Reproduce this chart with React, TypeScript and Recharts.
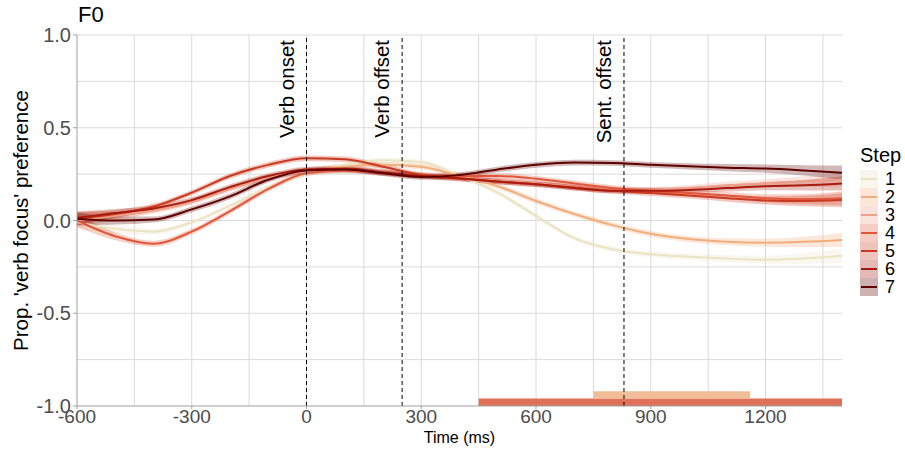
import {
  ComposedChart,
  Line,
  Area,
  XAxis,
  YAxis,
  CartesianGrid,
  ReferenceLine,
  ReferenceArea,
} from 'recharts';

const FONT = '"Liberation Sans", Arial, Helvetica, sans-serif';

// time points (ms)
const TIMES = [-600, -500, -400, -300, -200, -100, 0, 100, 200, 300, 400, 500, 600, 700, 800, 900, 1000, 1100, 1200, 1300, 1400];

// smoothed proportion per step
const STEP_1 = [-0.01, -0.045, -0.06, -0.01, 0.08, 0.18, 0.25, 0.3, 0.325, 0.315, 0.24, 0.15, 0.025, -0.095, -0.155, -0.182, -0.195, -0.205, -0.212, -0.205, -0.19];
const STEP_2 = [0.01, 0.03, 0.055, 0.105, 0.175, 0.235, 0.27, 0.29, 0.3, 0.29, 0.24, 0.185, 0.105, 0.035, -0.025, -0.072, -0.1, -0.115, -0.12, -0.115, -0.105];
const STEP_3 = [0.0, 0.025, 0.055, 0.1, 0.17, 0.23, 0.265, 0.275, 0.26, 0.24, 0.23, 0.215, 0.2, 0.18, 0.165, 0.165, 0.175, 0.19, 0.2, 0.21, 0.22];
const STEP_4 = [0.0, -0.085, -0.125, -0.06, 0.05, 0.17, 0.255, 0.27, 0.255, 0.245, 0.24, 0.24, 0.225, 0.2, 0.175, 0.16, 0.148, 0.135, 0.12, 0.115, 0.12];
const STEP_5 = [0.01, 0.035, 0.075, 0.15, 0.24, 0.3, 0.335, 0.33, 0.29, 0.245, 0.225, 0.21, 0.195, 0.178, 0.16, 0.148, 0.135, 0.12, 0.108, 0.105, 0.11];
const STEP_6 = [0.015, 0.04, 0.065, 0.11, 0.18, 0.24, 0.275, 0.28, 0.26, 0.24, 0.228, 0.21, 0.195, 0.175, 0.16, 0.16, 0.165, 0.175, 0.185, 0.19, 0.2];
const STEP_7 = [0.01, 0.0, 0.005, 0.06, 0.13, 0.22, 0.27, 0.275, 0.255, 0.235, 0.245, 0.275, 0.3, 0.312, 0.31, 0.3, 0.292, 0.285, 0.28, 0.27, 0.258];

// ribbon half-width at each time point
const RIBBON = [0.035, 0.022, 0.016, 0.015, 0.015, 0.015, 0.015, 0.015, 0.015, 0.015, 0.015, 0.015, 0.015, 0.015, 0.015, 0.016, 0.017, 0.019, 0.022, 0.028, 0.038];

const STEP_NAMES = ['1', '2', '3', '4', '5', '6', '7'];
const STEP_VALUES = [STEP_1, STEP_2, STEP_3, STEP_4, STEP_5, STEP_6, STEP_7];
const STEP_COLORS = ['#ebe3c4', '#f2ad7c', '#ee9f8c', '#e2573a', '#c93a20', '#a81b0e', '#5e0000'];

// event markers
const EVENT_TIMES = [0, 250, 830];
const EVENT_LABELS = ['Verb onset', 'Verb offset', 'Sent. offset'];

// significant clusters (bars along the bottom)
const SIG_START = [450, 750];
const SIG_END = [1400, 1160];
const SIG_BOTTOM = [-1.0, -0.96];
const SIG_TOP = [-0.96, -0.92];
const SIG_COLORS = ['#e0705a', '#f0be96'];

const X_TICKS = [-600, -300, 0, 300, 600, 900, 1200];
const Y_TICKS = [-1, -0.5, 0, 0.5, 1];
const GRID_X = [-450, -300, -150, 0, 150, 300, 450, 600, 750, 900, 1050, 1200, 1350];
const GRID_Y = [-0.75, -0.5, -0.25, 0, 0.25, 0.5, 0.75, 1];

const data = TIMES.map((t, i) => {
  const row: Record<string, any> = { t };
  STEP_VALUES.forEach((vals, s) => {
    row[`s${s}`] = vals[i];
    row[`r${s}`] = [vals[i] - RIBBON[i], vals[i] + RIBBON[i]];
  });
  return row;
});

const EventLabel = ({ viewBox, text }: any) => {
  const x = viewBox.x - 13;
  const y = 40;
  return (
    <text x={x} y={y} transform={`rotate(-90, ${x}, ${y})`} textAnchor="end" fontSize={20.5} fontFamily={FONT} fill="#000">
      {text}
    </text>
  );
};

const YTitle = ({ viewBox }: any) => {
  const x = 28;
  const y = viewBox.y + viewBox.height / 2;
  return (
    <text x={x} y={y} transform={`rotate(-90, ${x}, ${y})`} textAnchor="middle" fontSize={20.5} fontFamily={FONT} fill="#000">
      Prop. 'verb focus' preference
    </text>
  );
};

const XTitle = ({ viewBox }: any) => (
  <text x={viewBox.x + viewBox.width / 2} y={viewBox.y + 37} textAnchor="middle" fontSize={16} fontFamily={FONT} fill="#000">
    Time (ms)
  </text>
);

function StepLegend() {
  return (
    <div style={{ position: 'absolute', left: 860, top: 144, fontFamily: FONT }}>
      <div style={{ fontSize: 20, lineHeight: '22px', color: '#000', marginBottom: 4 }}>Step</div>
      <svg width={45} height={126}>
        {STEP_NAMES.map((name, i) => (
          <g key={name}>
            <rect x={0} y={i * 18} width={18} height={18} fill={STEP_COLORS[i]} fillOpacity={0.3} />
            <line x1={1} x2={17} y1={i * 18 + 9} y2={i * 18 + 9} stroke={STEP_COLORS[i]} strokeWidth={2} />
            <text x={25} y={i * 18 + 15} fontSize={18} fontFamily={FONT} fill="#000">
              {name}
            </text>
          </g>
        ))}
      </svg>
    </div>
  );
}

export default function App() {
  return (
    <div style={{ position: 'absolute', left: 0, top: 0, width: 905, height: 450, background: '#fff', fontFamily: FONT }}>
      <div style={{ position: 'absolute', left: 78, top: 2, fontSize: 22, lineHeight: '26px', color: '#000' }}>F0</div>
      <ComposedChart width={905} height={450} data={data} margin={{ top: 35, right: 63, left: 0, bottom: 0 }}>
        <CartesianGrid stroke="#dadada" strokeWidth={1} verticalValues={GRID_X} horizontalValues={GRID_Y} />
        <XAxis
          dataKey="t"
          type="number"
          domain={[-600, 1400]}
          ticks={X_TICKS}
          height={44}
          stroke="#a0a0a0"
          tickSize={3}
          tickMargin={1}
          tick={{ fontSize: 19, fill: '#4d4d4d', fontFamily: FONT }}
          label={<XTitle />}
        />
        <YAxis
          type="number"
          domain={[-1, 1]}
          ticks={Y_TICKS}
          width={77}
          stroke="#a0a0a0"
          tickSize={4}
          tickMargin={2}
          tickFormatter={(v: number) => v.toFixed(1)}
          tick={{ fontSize: 20, fill: '#4d4d4d', fontFamily: FONT }}
          label={<YTitle />}
        />
        {SIG_START.map((start, i) => (
          <ReferenceArea
            key={`sig${i}`}
            x1={start}
            x2={SIG_END[i]}
            y1={SIG_BOTTOM[i]}
            y2={SIG_TOP[i]}
            fill={SIG_COLORS[i]}
            fillOpacity={1}
            stroke="none"
          />
        ))}
        {STEP_NAMES.map((name, s) => (
          <Area
            key={`r${name}`}
            dataKey={`r${s}`}
            type="monotone"
            stroke="none"
            fill={STEP_COLORS[s]}
            fillOpacity={0.28}
            isAnimationActive={false}
            activeDot={false}
          />
        ))}
        {STEP_NAMES.map((name, s) => (
          <Line
            key={`l${name}`}
            dataKey={`s${s}`}
            name={name}
            type="monotone"
            stroke={STEP_COLORS[s]}
            strokeWidth={2}
            dot={false}
            activeDot={false}
            isAnimationActive={false}
          />
        ))}
        {EVENT_TIMES.map((t, i) => (
          <ReferenceLine
            key={`ev${i}`}
            x={t}
            stroke="#000"
            strokeWidth={1}
            strokeDasharray="4 3"
            label={<EventLabel text={EVENT_LABELS[i]} />}
          />
        ))}
      </ComposedChart>
      <StepLegend />
    </div>
  );
}
